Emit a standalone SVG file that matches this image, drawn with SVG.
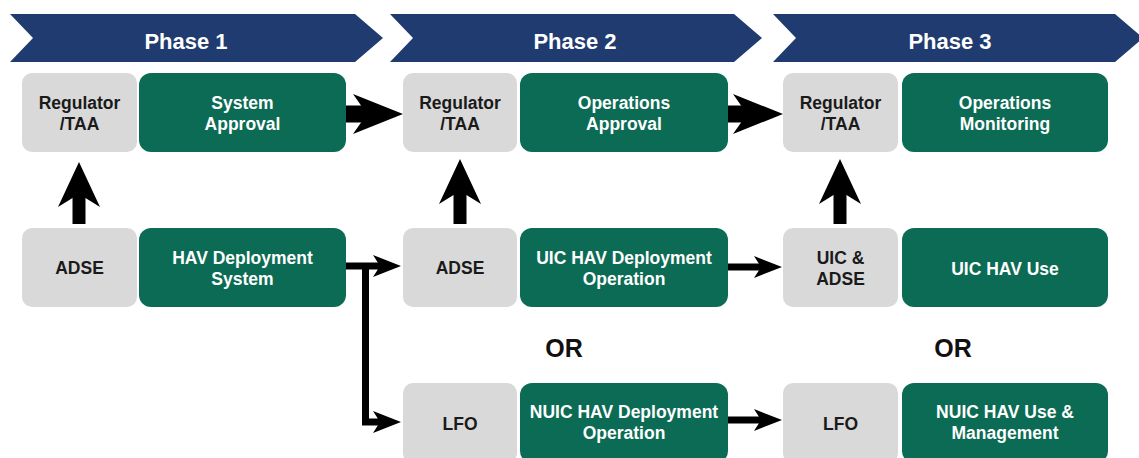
<svg xmlns="http://www.w3.org/2000/svg" width="1139" height="458" viewBox="0 0 1139 458">
<style>
.banner{fill:#1f3b6f}
.ph{font-family:"Liberation Sans",Arial,sans-serif;font-weight:bold;font-size:22px;fill:#fff;text-anchor:middle}
.g{fill:#d9d9d9}
.gr{fill:#0c6b54}
.tk{font-family:"Liberation Sans",Arial,sans-serif;font-weight:bold;font-size:17.5px;fill:#1a1a1a;text-anchor:middle}
.tw{font-family:"Liberation Sans",Arial,sans-serif;font-weight:bold;font-size:17.5px;fill:#fff;text-anchor:middle}
.or{font-family:"Liberation Sans",Arial,sans-serif;font-weight:bold;font-size:25px;fill:#111;text-anchor:middle}
.big{stroke:#000;stroke-width:17;fill:none}
.bigv{stroke:#000;stroke-width:13;fill:none}
.thin{stroke:#000;stroke-width:7;fill:none;stroke-linejoin:miter}
</style>
<defs>
<marker id="mBig" markerUnits="userSpaceOnUse" viewBox="0 0 50 40" markerWidth="50" markerHeight="40" refX="16" refY="20" orient="auto">
<path d="M0,0 L50,20 L0,40 L14,20 Z" fill="#000"/>
</marker>
<marker id="mBigV" markerUnits="userSpaceOnUse" viewBox="0 0 45 42" markerWidth="45" markerHeight="42" refX="15" refY="21" orient="auto">
<path d="M0,0 L45,21 L0,42 L13,21 Z" fill="#000"/>
</marker>
<marker id="mThin" markerUnits="userSpaceOnUse" viewBox="0 0 28 22" markerWidth="28" markerHeight="22" refX="9" refY="11" orient="auto">
<path d="M0,0 L28,11 L0,22 L7,11 Z" fill="#000"/>
</marker>
</defs>

<g id="phase1">
<path class="banner" d="M10,14 L355,14 L383,38 L355,62 L10,62 L33,38 Z"/>
<text class="ph" x="186" y="49">Phase 1</text>
</g>
<g id="phase2">
<path class="banner" d="M390,14 L734,14 L762,38 L734,62 L390,62 L413,38 Z"/>
<text class="ph" x="575" y="49">Phase 2</text>
</g>
<g id="phase3">
<path class="banner" d="M773,14 L1115,14 L1143,38 L1115,62 L773,62 L796,38 Z"/>
<text class="ph" x="950" y="49">Phase 3</text>
</g>

<g id="reg1"><rect class="g" x="22" y="73" width="115" height="79" rx="10"/>
<text class="tk" x="79.5" y="109">Regulator</text><text class="tk" x="79.5" y="130">/TAA</text></g>
<g id="sysApproval"><rect class="gr" x="139" y="73" width="207" height="79" rx="12"/>
<text class="tw" x="242.5" y="109">System</text><text class="tw" x="242.5" y="130">Approval</text></g>

<g id="reg2"><rect class="g" x="403" y="73" width="114" height="79" rx="10"/>
<text class="tk" x="460" y="109">Regulator</text><text class="tk" x="460" y="130">/TAA</text></g>
<g id="opsApproval"><rect class="gr" x="520" y="73" width="208" height="79" rx="12"/>
<text class="tw" x="624" y="109">Operations</text><text class="tw" x="624" y="130">Approval</text></g>

<g id="reg3"><rect class="g" x="783" y="73" width="115" height="79" rx="10"/>
<text class="tk" x="840.5" y="109">Regulator</text><text class="tk" x="840.5" y="130">/TAA</text></g>
<g id="opsMonitoring"><rect class="gr" x="902" y="73" width="206" height="79" rx="12"/>
<text class="tw" x="1005" y="109">Operations</text><text class="tw" x="1005" y="130">Monitoring</text></g>

<g id="adse1"><rect class="g" x="22" y="228" width="115" height="79" rx="10"/>
<text class="tk" x="79.5" y="274">ADSE</text></g>
<g id="havDeploy"><rect class="gr" x="139" y="228" width="207" height="79" rx="12"/>
<text class="tw" x="242.5" y="264">HAV Deployment</text><text class="tw" x="242.5" y="285">System</text></g>

<g id="adse2"><rect class="g" x="403" y="228" width="114" height="79" rx="10"/>
<text class="tk" x="460" y="274">ADSE</text></g>
<g id="uicDeploy"><rect class="gr" x="520" y="228" width="208" height="79" rx="12"/>
<text class="tw" x="624" y="264">UIC HAV Deployment</text><text class="tw" x="624" y="285">Operation</text></g>

<g id="uicAdse"><rect class="g" x="783" y="228" width="115" height="79" rx="10"/>
<text class="tk" x="840.5" y="264">UIC &amp;</text><text class="tk" x="840.5" y="285">ADSE</text></g>
<g id="uicUse"><rect class="gr" x="902" y="228" width="206" height="79" rx="12"/>
<text class="tw" x="1005" y="275">UIC HAV Use</text></g>

<g id="lfo2"><rect class="g" x="403" y="383" width="114" height="80" rx="10"/>
<text class="tk" x="460" y="430">LFO</text></g>
<g id="nuicDeploy"><rect class="gr" x="520" y="383" width="208" height="80" rx="12"/>
<text class="tw" x="624" y="418">NUIC HAV Deployment</text><text class="tw" x="624" y="439">Operation</text></g>

<g id="lfo3"><rect class="g" x="783" y="383" width="115" height="80" rx="10"/>
<text class="tk" x="840.5" y="430">LFO</text></g>
<g id="nuicUse"><rect class="gr" x="902" y="383" width="206" height="80" rx="12"/>
<text class="tw" x="1005" y="418">NUIC HAV Use &amp;</text><text class="tw" x="1005" y="439">Management</text></g>

<g id="or-labels">
<text class="or" x="564" y="357">OR</text>
<text class="or" x="953" y="357">OR</text>
</g>

<g id="connectors">
<line class="big" x1="346" y1="114" x2="369" y2="114" marker-end="url(#mBig)"/>
<line class="big" x1="728" y1="114" x2="749" y2="114" marker-end="url(#mBig)"/>
<line class="bigv" x1="79" y1="224" x2="79" y2="192" marker-end="url(#mBigV)"/>
<line class="bigv" x1="460" y1="224" x2="460" y2="189" marker-end="url(#mBigV)"/>
<line class="bigv" x1="840" y1="224" x2="840" y2="189" marker-end="url(#mBigV)"/>
<line class="thin" x1="346" y1="266" x2="382" y2="266" marker-end="url(#mThin)"/>
<path class="thin" d="M365.5,263 L365.5,422 L382,422" marker-end="url(#mThin)"/>
<line class="thin" x1="728" y1="267" x2="763" y2="267" marker-end="url(#mThin)"/>
<line class="thin" x1="728" y1="420" x2="763" y2="420" marker-end="url(#mThin)"/>
</g>
</svg>
